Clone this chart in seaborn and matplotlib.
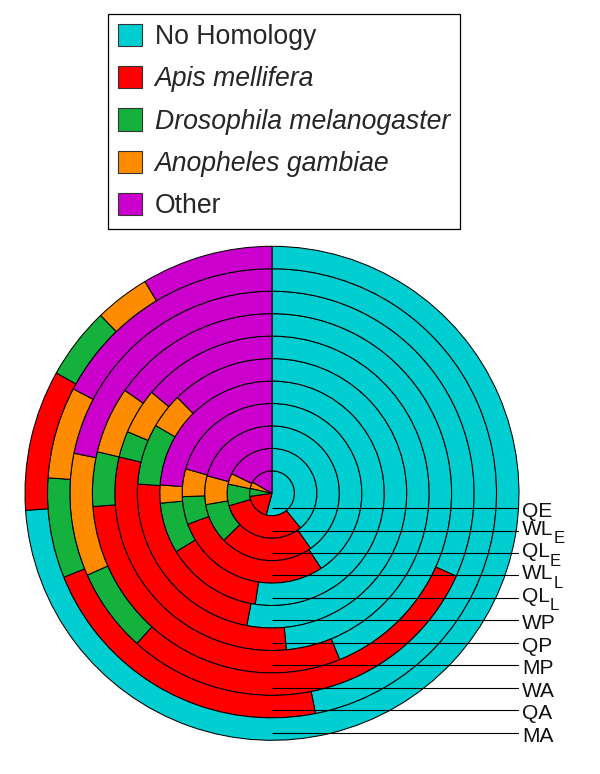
import numpy as np
import pandas as pd
import matplotlib
matplotlib.use("Agg")
import matplotlib.pyplot as plt
from matplotlib.patches import Patch
import seaborn as sns

sns.set_theme(style="white")
plt.rcParams['font.family'] = ['Liberation Sans', 'DejaVu Sans']

# rings, inner -> outer
stage_names = ["QE", "WL", "QL", "WL", "QL", "WP", "QP", "MP", "WA", "QA", "MA"]
stage_subs = ["", "E", "E", "L", "L", "", "", "", "", "", ""]

# percent of transcripts per homology class
no_homology = [54.2, 39.1, 40.3, 40.8, 52.4, 53.0, 48.6, 43.9, 31.7, 46.9, 73.9]
apis = [18.6, 31.5, 22.4, 28.6, 13.9, 23.1, 30.2, 30.0, 29.9, 22.0, 9.2]
drosophila = [5.8, 7.8, 9.6, 5.0, 7.3, 7.3, 2.7, 4.9, 6.7, 7.2, 4.7]
anopheles = [4.7, 3.9, 6.9, 5.0, 2.6, 4.2, 4.7, 6.0, 9.8, 6.6, 3.6]
other = [16.7, 17.8, 20.8, 20.6, 23.8, 12.4, 13.9, 15.3, 21.8, 17.3, 8.6]

classes = ["No Homology", "Apis mellifera", "Drosophila melanogaster",
           "Anopheles gambiae", "Other"]
colors = ["#00CED1", "#FF0000", "#14B23C", "#FF8C00", "#CC00CC"]

df = pd.DataFrame({
    "stage": stage_names,
    classes[0]: no_homology,
    classes[1]: apis,
    classes[2]: drosophila,
    classes[3]: anopheles,
    classes[4]: other,
})

W, H = 600, 774
fig = plt.figure(figsize=(W / 100, H / 100), dpi=100)

# pie centre (272, 493) px, radius 247 px
cx, cy, R = 272, 493.3, 247
ax = fig.add_axes([(cx - R) / W, (H - cy - R) / H, 2 * R / W, 2 * R / H])

n = len(df)
w = 1.0 / n
for k, row in df.iterrows():
    vals = row[classes].astype(float).values
    ax.pie(vals, radius=(k + 1) * w, colors=colors, startangle=90,
           counterclock=False,
           wedgeprops=dict(width=w, edgecolor="black", linewidth=0.75))

ax.set_xlim(-1, 1)
ax.set_ylim(-1, 1)
ax.set_aspect("equal")
ax.axis("off")

# label lines + stage names
for k, (name, sub) in enumerate(zip(stage_names, stage_subs)):
    y = -(k + 0.66) * w
    ax.hlines(y, 0, 1.0, color="black", lw=0.8, zorder=5)
    dy = -4.0 if sub else -9.0
    t = ax.annotate(name, xy=(1.012, y), xytext=(0, dy),
                    textcoords="offset pixels", va="baseline", ha="left",
                    fontsize=15, color="#111111", annotation_clip=False)
    if sub:
        ax.annotate(sub, xy=(1, 0), xycoords=t, xytext=(0, -4.5),
                    textcoords="offset pixels", va="baseline", ha="left",
                    fontsize=12, color="#111111", annotation_clip=False)

# legend
handles = [Patch(facecolor=c, edgecolor="#333333", linewidth=0.8) for c in colors]
leg = fig.legend(handles, classes, loc="upper left",
                 bbox_to_anchor=(108 / W, 1 - 14 / H),
                 fontsize=19.2, frameon=True, fancybox=False,
                 edgecolor="black", framealpha=1,
                 handlelength=0.9, handleheight=0.9,
                 handletextpad=0.48, borderpad=0.37, labelspacing=0.6,
                 borderaxespad=0)
leg.get_frame().set_linewidth(0.9)
for txt in leg.get_texts()[1:4]:
    txt.set_fontstyle("italic")

fig.savefig("out.png", dpi=100)
